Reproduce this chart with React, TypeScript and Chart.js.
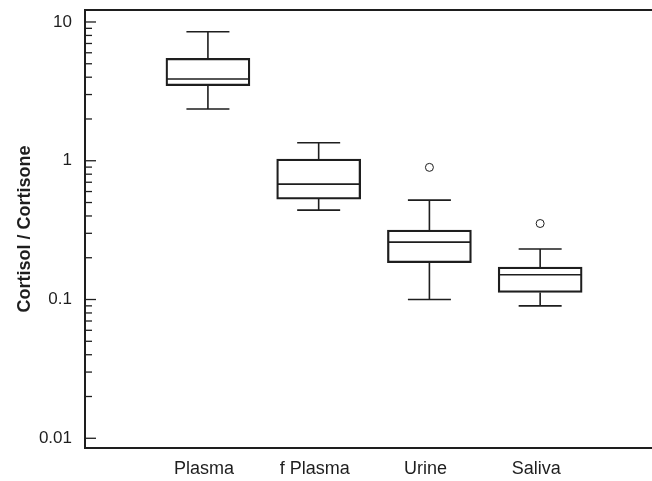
import React, { useEffect, useRef } from "react";
import { Chart, registerables } from "chart.js";

Chart.register(...registerables);

const categories = ["Plasma", "f Plasma", "Urine", "Saliva"];
const positions = [1, 2, 3, 4];
const whiskerLow = [2.36, 0.441, 0.1, 0.09];
const q1 = [3.47, 0.529, 0.184, 0.1125];
const median = [3.88, 0.679, 0.259, 0.151];
const q3 = [5.47, 1.03, 0.316, 0.171];
const whiskerHigh = [8.51, 1.349, 0.52, 0.231];
const outlierPos = [3, 4];
const outlierVal = [0.896, 0.353];
const yTickValues = [
  0.01, 0.02, 0.03, 0.04, 0.05, 0.06, 0.07, 0.08, 0.09,
  0.1, 0.2, 0.3, 0.4, 0.5, 0.6, 0.7, 0.8, 0.9,
  1, 2, 3, 4, 5, 6, 7, 8, 9,
  10,
];
const yLabeled = [0.01, 0.1, 1, 10];

const INK = "#1e1e1e";
const FONT = "'Liberation Sans', Arial, Helvetica, sans-serif";

const isMajor = (v: number) => yLabeled.some((m) => Math.abs(m - v) / m < 1e-6);

const zeroPad = (s: any) => {
  s.paddingLeft = 0;
  s.paddingRight = 0;
  s.paddingTop = 0;
  s.paddingBottom = 0;
};

const boxExtras = {
  id: "boxExtras",
  afterDatasetsDraw(chart: any) {
    const { ctx, chartArea } = chart;
    const xs = chart.scales.x;
    const ys = chart.scales.y;
    ctx.save();
    ctx.strokeStyle = INK;
    ctx.lineWidth = 1.6;
    const capHalf = 21.5;
    for (let i = 0; i < positions.length; i++) {
      const x = xs.getPixelForValue(positions[i]);
      const yl = ys.getPixelForValue(whiskerLow[i]);
      const y1 = ys.getPixelForValue(q1[i]);
      const ym = ys.getPixelForValue(median[i]);
      const y3 = ys.getPixelForValue(q3[i]);
      const yh = ys.getPixelForValue(whiskerHigh[i]);
      ctx.beginPath();
      ctx.moveTo(x, y3);
      ctx.lineTo(x, yh);
      ctx.moveTo(x - capHalf, yh);
      ctx.lineTo(x + capHalf, yh);
      ctx.moveTo(x, y1);
      ctx.lineTo(x, yl);
      ctx.moveTo(x - capHalf, yl);
      ctx.lineTo(x + capHalf, yl);
      ctx.stroke();
      ctx.beginPath();
      ctx.moveTo(x - 41, ym);
      ctx.lineTo(x + 41, ym);
      ctx.stroke();
    }
    // inward tick marks on the y axis
    ctx.lineWidth = 1.3;
    for (const t of ys.ticks) {
      const v = t.value;
      const y = ys.getPixelForValue(v);
      const len = isMajor(v) ? 11 : 7;
      ctx.beginPath();
      ctx.moveTo(chartArea.left, y);
      ctx.lineTo(chartArea.left + len, y);
      ctx.stroke();
    }
    ctx.restore();
  },
};

export default function App() {
  const ref = useRef<HTMLCanvasElement | null>(null);
  useEffect(() => {
    document.body.style.margin = "0";
    if (!ref.current) return;
    const chart = new Chart(ref.current, {
      type: "bar",
      data: {
        datasets: [
          {
            type: "bar",
            data: positions.map((p, i) => ({ x: p, y: [q1[i], q3[i]] })) as any,
            backgroundColor: "rgba(255,255,255,0)",
            borderColor: INK,
            borderWidth: 1.6,
            borderSkipped: false,
            barThickness: 84,
            xAxisID: "x",
            yAxisID: "y",
          } as any,
          {
            type: "scatter",
            data: outlierPos.map((p, i) => ({ x: p, y: outlierVal[i] })),
            pointRadius: 4,
            pointBackgroundColor: "#ffffff",
            pointBorderColor: INK,
            pointBorderWidth: 1,
            xAxisID: "x",
            yAxisID: "y",
          } as any,
        ],
      },
      options: {
        animation: false,
        responsive: true,
        maintainAspectRatio: false,
        layout: { padding: 0, autoPadding: false },
        plugins: { legend: { display: false }, tooltip: { enabled: false } },
        scales: {
          x: {
            type: "linear",
            position: "bottom",
            offset: false,
            min: -0.11,
            max: 5.01,
            grid: { display: false, drawTicks: false },
            border: { display: true, color: INK, width: 2 },
            afterBuildTicks: (s: any) => {
              s.ticks = positions.map((v) => ({ value: v }));
            },
            afterFit: (s: any) => {
              s.height = 33;
              zeroPad(s);
            },
            ticks: {
              autoSkip: false,
              maxRotation: 0,
              padding: 10,
              labelOffset: -4,
              color: INK,
              font: { family: FONT, size: 18 },
              callback: (v: any) => {
                const idx = positions.indexOf(Number(v));
                return idx >= 0 ? categories[idx] : "";
              },
            },
          },
          xTop: {
            type: "linear",
            position: "top",
            offset: false,
            min: -0.11,
            max: 5.01,
            grid: { display: false, drawTicks: false },
            border: { display: true, color: INK, width: 2 },
            ticks: { display: false },
            afterFit: (s: any) => {
              s.height = 10;
              zeroPad(s);
            },
          },
          y: {
            type: "logarithmic",
            min: 0.00851,
            max: 12.2,
            grid: { display: false, drawTicks: false },
            border: { display: true, color: INK, width: 2 },
            afterBuildTicks: (s: any) => {
              s.ticks = yTickValues.map((v) => ({ value: v }));
            },
            afterFit: (s: any) => {
              s.width = 85;
              zeroPad(s);
            },
            title: {
              display: true,
              text: "Cortisol / Cortisone",
              color: INK,
              font: { family: FONT, size: 18, weight: "bold" },
              padding: { top: 14, bottom: 0 },
            },
            ticks: {
              autoSkip: false,
              padding: 13,
              color: INK,
              font: { family: FONT, size: 17 },
              callback: (v: any) => {
                const n = Number(v);
                if (!isMajor(n)) return "";
                return String(n);
              },
            },
          },
        },
      },
      plugins: [boxExtras],
    });
    return () => chart.destroy();
  }, []);
  return (
    <div style={{ position: "absolute", left: 0, top: 0, width: 652, height: 481 }}>
      <canvas ref={ref} />
    </div>
  );
}
